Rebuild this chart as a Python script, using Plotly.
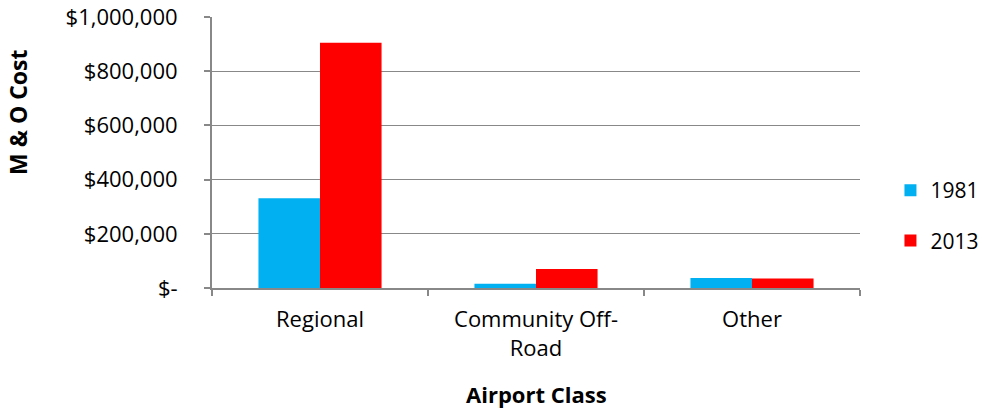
import plotly.graph_objects as go

categories = ["Regional", "Community Off-<br>Road", "Other"]
series_names = ["1981", "2013"]
values_1981 = [331000, 16000, 37000]
values_2013 = [905000, 70000, 35000]
colors = ["#00B0F0", "#FF0000"]
y_tickvals = [0, 200000, 400000, 600000, 800000, 1000000]
y_ticktext = ["$-", "$200,000", "$400,000", "$600,000", "$800,000", "$1,000,000"]

FONT = "Open Sans, Liberation Sans, sans-serif"
L, R, T, B = 212, 122, 17, 123
PW, PH = 982 - L - R, 411 - T - B

fig = go.Figure()
for name, vals, col in zip(series_names, [values_1981, values_2013], colors):
    fig.add_trace(go.Bar(x=categories, y=vals, name=name, marker_color=col,
                         marker_line_width=0, legendgroup=name))

fig.update_layout(
    width=982, height=411,
    margin=dict(l=L, r=R, t=T, b=B, autoexpand=False),
    paper_bgcolor="white", plot_bgcolor="white",
    font=dict(family=FONT, size=20, color="black"),
    barmode="group", bargap=0.43, bargroupgap=0,
    showlegend=True,
    legend=dict(x=1.047, y=(411 - B - 215.5) / PH, xanchor="left", yanchor="middle",
                font=dict(size=21), traceorder="grouped", tracegroupgap=20,
                itemwidth=30),
    annotations=[
        dict(text="<b>M & O Cost</b>", xref="paper", yref="paper",
             x=(18 - L) / PW, y=(411 - B - 113) / PH, textangle=-90,
             showarrow=False, font=dict(size=23), xanchor="center", yanchor="middle"),
        dict(text="<b>Airport Class</b>", xref="paper", yref="paper",
             x=0.5, y=-(394 - (411 - B)) / PH,
             showarrow=False, font=dict(size=22), xanchor="center", yanchor="middle"),
    ],
)
fig.update_xaxes(
    automargin=False,
    showline=True, linecolor="#888888", linewidth=2,
    ticks="outside", tickson="boundaries", ticklen=6, tickcolor="#888888", tickwidth=2,
    tickfont=dict(size=22), showgrid=False, ticklabelstandoff=11,
)
fig.update_yaxes(
    automargin=False,
    range=[0, 1000000], tickvals=y_tickvals, ticktext=y_ticktext,
    showline=True, linecolor="#888888", linewidth=2,
    ticks="outside", ticklen=6, tickcolor="#888888", tickwidth=2,
    showgrid=True, gridcolor="#888888", gridwidth=1,
    tickfont=dict(size=22), zeroline=False, ticklabelstandoff=22,
)

fig.write_html("out.html")
